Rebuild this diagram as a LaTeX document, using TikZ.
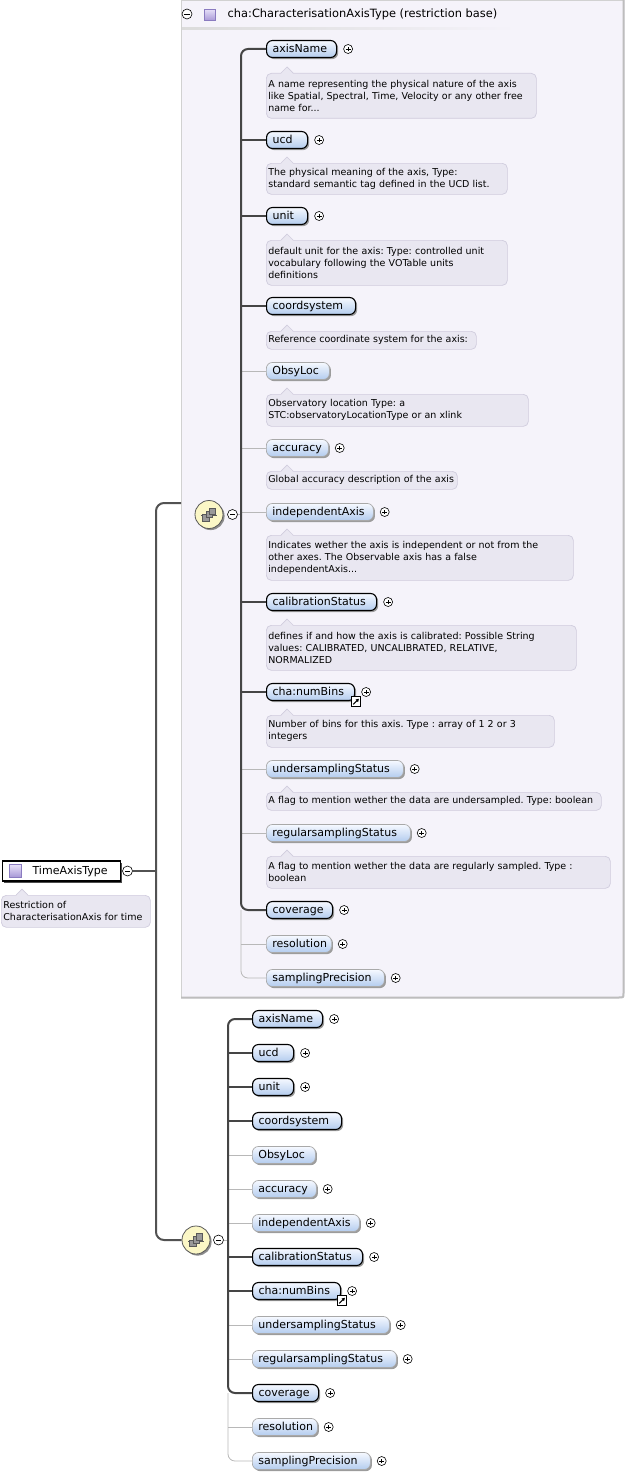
\documentclass[tikz,border=0pt]{standalone}
\usepackage{fontspec}
\setmainfont{DejaVu Sans}
\usetikzlibrary{calc,shadows,arrows.meta}
\frenchspacing
\definecolor{basefill}{HTML}{F5F3FA}
\definecolor{baseborder}{HTML}{BDBDBD}
\definecolor{elTop}{HTML}{F6F9FF}
\definecolor{elBot}{HTML}{B3CCEE}
\definecolor{optbord}{HTML}{A9A9A9}
\definecolor{shadowc}{HTML}{9C9C9C}
\definecolor{descfill}{HTML}{E9E7F1}
\definecolor{descline}{HTML}{D0CCDD}
\definecolor{seqfill}{HTML}{FBF7C6}
\definecolor{reqline}{HTML}{454545}
\definecolor{optline}{HTML}{B8B8B8}
\definecolor{icTop}{HTML}{E6DFF8}
\definecolor{icBot}{HTML}{A797D6}
\definecolor{icBord}{HTML}{8A7BC0}
\newcommand\elfont{\fontsize{11}{13}\selectfont}
\newcommand\hdfont{\fontsize{11.4}{13}\selectfont}
\newcommand\descfont{\fontsize{9.5}{12}\selectfont}
\tikzset{
  elreq/.style={rectangle, rounded corners=6pt, draw=black, line width=1.1pt,
    top color=elTop, bottom color=elBot, minimum height=17pt, inner xsep=6pt,
    inner ysep=0pt, align=left, font=\elfont, text height=9pt, text depth=1.5pt,
    drop shadow={shadow xshift=1.6pt, shadow yshift=-1.6pt, fill=shadowc, opacity=1}},
  elopt/.style={elreq, draw=optbord, line width=0.7pt},
  pluscirc/.style={circle, draw=black, fill=white, line width=0.6pt, minimum size=9pt,
    inner sep=0pt, path picture={\draw[line width=0.6pt, shift={(path picture bounding box.center)}]
      (-2.4pt,0) -- (2.4pt,0) (0,-2.4pt) -- (0,2.4pt);}},
  minuscirc/.style={circle, draw=black, fill=white, line width=0.6pt, minimum size=10pt,
    inner sep=0pt, path picture={\draw[line width=0.7pt, shift={(path picture bounding box.center)}]
      (-2.6pt,0) -- (2.6pt,0);}},
  refic/.style={rectangle, draw=black, fill=white, line width=0.8pt, minimum size=9.5pt, inner sep=0pt,
    path picture={\draw[line width=1.1pt, shift={(path picture bounding box.center)}, -{Triangle[length=3pt,width=3.4pt]}]
      (-2.8pt,-2.8pt) -- (2.8pt,2.8pt);}},
  seqic/.style={circle, draw=black!65, fill=seqfill, line width=0.8pt, minimum size=28pt, inner sep=0pt,
    drop shadow={shadow xshift=1.6pt, shadow yshift=-1.6pt, fill=black!45, opacity=1},
    path picture={\begin{scope}[shift={(path picture bounding box.center)}]
      \draw[line width=0.7pt] (-9.5pt,-1pt) -- (9.5pt,-1pt);
      \fill (-10.5pt,-2.3pt) rectangle (-8pt,0.3pt);
      \fill (8pt,-2.3pt) rectangle (10.5pt,0.3pt);
      \draw[fill=black!40, line width=0.5pt] (-6.5pt,-6.5pt) rectangle (0pt,0pt);
      \draw[fill=black!40, line width=0.5pt] (-3.2pt,-3.2pt) rectangle (3.3pt,3.3pt);
      \draw[fill=black!40, line width=0.5pt] (0pt,0pt) rectangle (6.5pt,6.5pt);
    \end{scope}}},
  typeic/.style={rectangle, draw=icBord, line width=0.6pt, top color=icTop, bottom color=icBot,
    minimum size=11.5pt, inner sep=0pt},
  descst/.style={rectangle, rounded corners=5pt, draw=descline, fill=descfill, line width=0.7pt,
    inner xsep=2pt, inner ysep=1pt, align=left, font=\descfont},
  conreq/.style={draw=reqline, line width=2pt},
  conopt/.style={draw=optline, line width=0.8pt},
  contrunk/.style={draw=black!68, line width=2pt},
  tatbox/.style={rectangle, draw=black, fill=white, line width=1.2pt, inner xsep=8.5pt,
    inner ysep=0pt, minimum height=20pt, align=left, font=\elfont, text height=9pt, text depth=1.5pt,
    drop shadow={shadow xshift=1.8pt, shadow yshift=-1.8pt, fill=black!70, opacity=1}}
}
\newcommand\elbox[6]{%
  \pgfmathsetmacro\elw{#4-2}\pgfmathsetmacro\eltw{#4-14}%
  \node[#5, anchor=west, minimum width=\elw pt, text width=\eltw pt] (#1) at (#2,#3) {#6};}
\newcommand\pluson[1]{\node[pluscirc] (#1-p) at ($(#1.east)+(11,0)$) {};}
\newcommand\descbox[6]{%
  \pgfmathsetmacro\dsw{#4-5}%
  \node[descst, anchor=north west, text width=\dsw pt, minimum height=#5pt] (#1) at (#2,#3) {#6};
  \fill[descfill] ($(#1.north west)+(15,0.8)$) -- ($(#1.north west)+(21,-6)$) -- ($(#1.north west)+(27,0.8)$) -- cycle;
  \draw[descline, line width=0.7pt] ($(#1.north west)+(15,0)$) -- ($(#1.north west)+(21,-6)$) -- ($(#1.north west)+(27,0)$);}
\begin{document}
\begin{tikzpicture}[x=1pt, y=-1pt]
\useasboundingbox (0,0) rectangle (626,1477);
% restriction base box
\path[fill=basefill] (181,0) -- (624.5,0) -- (624.5,993) .. controls (624.5,998.5) .. (619,998.5) -- (181,998.5) -- cycle;
\draw[draw=baseborder!70, line width=1pt] (181.5,998) -- (181.5,0.5) -- (624,0.5);
\draw[draw=baseborder, line width=2pt] (623.5,0) -- (623.5,993) .. controls (623.5,997.5) .. (618.5,997.5) -- (181,997.5);
\shade[left color=black!14, right color=basefill] (182,27.5) rectangle (516,30);
\node[minuscirc] (hm) at (187,14) {};
\node[typeic] (hic) at (210,15) {};
\node[anchor=west, font=\hdfont, inner sep=0pt] (htitle) at (227.5,14.5) {cha:CharacterisationAxisType (restriction base)};
% named trunk columns
\coordinate (tr0) at (156,0);
\coordinate (tr1) at (241,0);
\coordinate (tr2) at (228,0);
\coordinate (baseL) at (181,503);
% left type
\node[tatbox, anchor=west, minimum width=118pt, text width=101pt] (tat) at (1.5,871) {\hspace*{22pt}TimeAxisType};
\node[typeic, minimum size=12.5pt] (tatic) at (15.5,871) {};
\node[minuscirc] (m0) at (127.5,871) {};
\descbox{tatd}{1}{895}{150}{32}{Restriction of\\CharacterisationAxis for time}
% sequence icons
\node[seqic] (seq1) at (209,514.5) {};
\node[minuscirc] (m1) at (232.5,514.5) {};
\node[seqic] (seq2) at (196,1240) {};
\node[minuscirc] (m2) at (218.5,1240) {};
% top elements
\elbox{t1}{266}{49}{72}{elreq}{axisName}\pluson{t1}
\descbox{d1}{266}{73}{271}{45}{A name representing the physical nature of the axis\\like Spatial, Spectral, Time, Velocity or any other free\\name for...}
\elbox{t2}{266}{140}{43}{elreq}{ucd}\pluson{t2}
\descbox{d2}{266}{163}{242}{31}{The physical meaning of the axis, Type:\\standard semantic tag defined in the UCD list.}
\elbox{t3}{266}{216}{43}{elreq}{unit}\pluson{t3}
\descbox{d3}{266}{240}{242}{45}{default unit for the axis: Type: controlled unit\\vocabulary following the VOTable units\\definitions}
\elbox{t4}{266}{306}{91}{elreq}{coordsystem}
\descbox{d4}{266}{331}{211}{18}{Reference coordinate system for the axis:}
\elbox{t5}{266}{371}{65}{elopt}{ObsyLoc}
\descbox{d5}{266}{394}{263}{32}{Observatory location Type: a\\STC:observatoryLocationType or an xlink}
\elbox{t6}{266}{448}{64}{elopt}{accuracy}\pluson{t6}
\descbox{d6}{266}{471}{192}{18}{Global accuracy description of the axis}
\elbox{t7}{266}{512}{109}{elopt}{independentAxis}\pluson{t7}
\descbox{d7}{266}{535}{308}{45}{Indicates wether the axis is independent or not from the\\other axes. The Observable axis has a false\\independentAxis...}
\elbox{t8}{266}{602}{112}{elreq}{calibrationStatus}\pluson{t8}
\descbox{d8}{266}{625}{311}{45}{defines if and how the axis is calibrated: Possible String\\values: CALIBRATED, UNCALIBRATED, RELATIVE,\\NORMALIZED}
\elbox{t9}{266}{692}{90}{elreq}{cha:numBins}\pluson{t9}
\node[refic] (t9-r) at ($(t9.south east)+(1,0.5)$) {};
\descbox{d9}{266}{715}{289}{32}{Number of bins for this axis. Type : array of 1 2 or 3\\integers}
\elbox{t10}{266}{769}{139}{elopt}{undersamplingStatus}\pluson{t10}
\descbox{d10}{266}{792}{336}{18}{A flag to mention wether the data are undersampled. Type: boolean}
\elbox{t11}{266}{833}{146}{elopt}{regularsamplingStatus}\pluson{t11}
\descbox{d11}{266}{856}{345}{32}{A flag to mention wether the data are regularly sampled. Type :\\boolean}
\elbox{t12}{266}{910}{68}{elreq}{coverage}\pluson{t12}
\elbox{t13}{266}{944}{67}{elopt}{resolution}\pluson{t13}
\elbox{t14}{266}{978}{120}{elopt}{samplingPrecision}\pluson{t14}
% bottom elements
\elbox{b1}{252}{1019}{72}{elreq}{axisName}\pluson{b1}
\elbox{b2}{252}{1053}{43}{elreq}{ucd}\pluson{b2}
\elbox{b3}{252}{1087}{43}{elreq}{unit}\pluson{b3}
\elbox{b4}{252}{1121}{91}{elreq}{coordsystem}
\elbox{b5}{252}{1155}{65}{elopt}{ObsyLoc}
\elbox{b6}{252}{1189}{66}{elopt}{accuracy}\pluson{b6}
\elbox{b7}{252}{1223}{109}{elopt}{independentAxis}\pluson{b7}
\elbox{b8}{252}{1257}{112}{elreq}{calibrationStatus}\pluson{b8}
\elbox{b9}{252}{1291}{90}{elreq}{cha:numBins}\pluson{b9}
\node[refic] (b9-r) at ($(b9.south east)+(1,0.5)$) {};
\elbox{b10}{252}{1325}{139}{elopt}{undersamplingStatus}\pluson{b10}
\elbox{b11}{252}{1359}{146}{elopt}{regularsamplingStatus}\pluson{b11}
\elbox{b12}{252}{1393}{68}{elreq}{coverage}\pluson{b12}
\elbox{b13}{252}{1427}{67}{elopt}{resolution}\pluson{b13}
\elbox{b14}{252}{1461}{120}{elopt}{samplingPrecision}\pluson{b14}
% branches top
\foreach \n in {t2,t3,t4,t8,t9} \draw[conreq] (\n.west -| tr1) -- (\n.west);
\foreach \n in {t5,t6,t7,t10,t11,t13} \draw[conopt] (\n.west -| tr1) -- (\n.west);
\draw[conopt] (m1.east) -- (m1.east -| tr1);
\draw[conopt, rounded corners=7] (t12.west -| tr1) -- (t14.west -| tr1) -- (t14.west);
\draw[conreq, rounded corners=7] (t1.west) -- (t1.west -| tr1) -- (t12.west -| tr1) -- (t12.west);
% branches bottom
\foreach \n in {b2,b3,b4,b8,b9} \draw[conreq] (\n.west -| tr2) -- (\n.west);
\foreach \n in {b5,b6,b7,b10,b11,b13} \draw[conopt] (\n.west -| tr2) -- (\n.west);
\draw[conopt] (m2.east) -- (m2.east -| tr2);
\draw[conopt, rounded corners=7] (b12.west -| tr2) -- (b14.west -| tr2) -- (b14.west);
\draw[conreq, rounded corners=7] (b1.west) -- (b1.west -| tr2) -- (b12.west -| tr2) -- (b12.west);
% outer trunk
\draw[contrunk] (m0.east) -- (m0.east -| tr0);
\draw[contrunk, rounded corners=8] (baseL) -- (baseL -| tr0) -- (seq2.west -| tr0) -- (seq2.west);
\end{tikzpicture}
\end{document}
